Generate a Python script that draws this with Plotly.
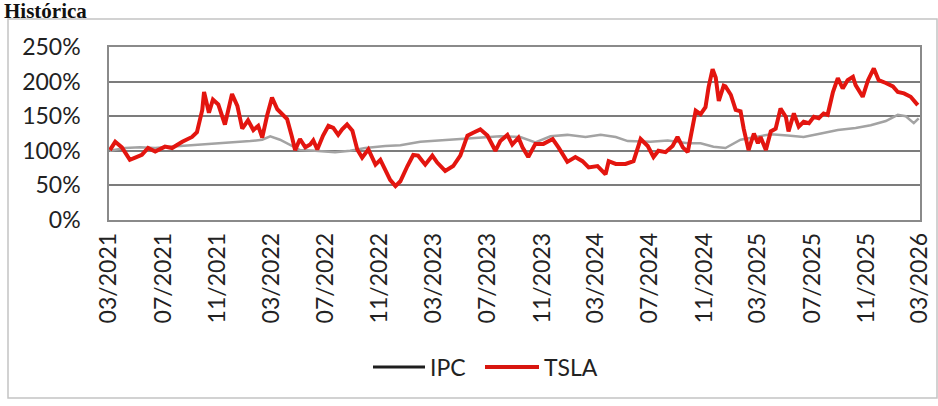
import plotly.graph_objects as go

# ---- data ----
tsla_dates = [
    "2021-03-03", "2021-03-15", "2021-03-30", "2021-04-17", "2021-04-29", "2021-05-14",
    "2021-05-28", "2021-06-13", "2021-07-05", "2021-07-21", "2021-08-13", "2021-09-04",
    "2021-09-15", "2021-09-27", "2021-10-01", "2021-10-12", "2021-10-21", "2021-11-02",
    "2021-11-17", "2021-12-03", "2021-12-15", "2021-12-26", "2022-01-08", "2022-01-20",
    "2022-01-31", "2022-02-09", "2022-02-20", "2022-03-03", "2022-03-15", "2022-03-26",
    "2022-04-06", "2022-04-17", "2022-04-24", "2022-05-05", "2022-05-17", "2022-05-28",
    "2022-06-04", "2022-06-13", "2022-06-26", "2022-07-08", "2022-07-19", "2022-07-30",
    "2022-08-08", "2022-08-19", "2022-08-31", "2022-09-11", "2022-09-22", "2022-10-06",
    "2022-10-22", "2022-11-02", "2022-11-13", "2022-11-24", "2022-12-06", "2022-12-17",
    "2023-01-02", "2023-01-15", "2023-01-26", "2023-02-11", "2023-02-27", "2023-03-10",
    "2023-03-28", "2023-04-15", "2023-05-01", "2023-05-17", "2023-05-30", "2023-06-15",
    "2023-07-01", "2023-07-19", "2023-07-30", "2023-08-15", "2023-08-26", "2023-09-09",
    "2023-09-18", "2023-10-01", "2023-10-17", "2023-11-04", "2023-11-25", "2023-12-08",
    "2023-12-28", "2024-01-15", "2024-01-31", "2024-02-14", "2024-03-05", "2024-03-23",
    "2024-03-30", "2024-04-15", "2024-05-07", "2024-05-25", "2024-06-10", "2024-06-26",
    "2024-07-09", "2024-07-20", "2024-08-05", "2024-08-21", "2024-09-01", "2024-09-13",
    "2024-09-24", "2024-10-01", "2024-10-12", "2024-10-23", "2024-11-03", "2024-11-10",
    "2024-11-19", "2024-11-26", "2024-12-03", "2024-12-14", "2024-12-18", "2024-12-30",
    "2025-01-10", "2025-01-21", "2025-01-28", "2025-02-08", "2025-02-20", "2025-03-01",
    "2025-03-07", "2025-03-19", "2025-03-30", "2025-04-10", "2025-04-21", "2025-05-03",
    "2025-05-09", "2025-05-21", "2025-06-01", "2025-06-12", "2025-06-24", "2025-07-05",
    "2025-07-16", "2025-07-27", "2025-08-05", "2025-08-17", "2025-08-28", "2025-09-08",
    "2025-09-19", "2025-10-01", "2025-10-07", "2025-10-23", "2025-11-04", "2025-11-17",
    "2025-11-28", "2025-12-14", "2025-12-30", "2026-01-10", "2026-01-24", "2026-02-08",
    "2026-02-24",
]
tsla_values = [
    101, 113, 105, 87, 90, 94,
    104, 99, 106, 104, 113, 120,
    127, 159, 185, 155, 174, 167,
    138, 182, 165, 132, 144, 130,
    136, 119, 151, 177, 160, 153,
    146, 120, 101, 117, 105, 109,
    115, 102, 122, 136, 133, 123,
    131, 138, 129, 102, 90, 102,
    80, 87, 73, 58, 49, 56,
    78, 94, 93, 80, 93, 83,
    71, 78, 93, 122, 126, 131,
    122, 100, 114, 123, 109, 119,
    105, 91, 110, 110, 117, 105,
    84, 91, 85, 76, 78, 66,
    85, 81, 81, 85, 117, 107,
    91, 100, 98, 107, 120, 105,
    98, 121, 158, 153, 163, 192,
    218, 206, 172, 194, 193, 181,
    159, 157, 132, 101, 125, 111,
    120, 101, 128, 132, 161, 149,
    128, 154, 135, 142, 140, 149,
    147, 154, 152, 185, 205, 190,
    202, 207, 195, 178, 202, 219,
    202, 198, 193, 185, 183, 178,
    166,
]

ipc_dates = [
    "2021-03-03", "2021-04-06", "2021-05-10", "2021-06-13", "2021-07-16", "2021-08-31",
    "2021-10-15", "2021-11-29", "2022-01-13", "2022-02-09", "2022-02-27", "2022-03-21",
    "2022-04-13", "2022-05-05", "2022-06-08", "2022-07-23", "2022-08-26", "2022-09-29",
    "2022-11-13", "2022-12-17", "2023-01-31", "2023-03-17", "2023-05-01", "2023-06-15",
    "2023-07-30", "2023-09-13", "2023-10-17", "2023-11-20", "2023-12-28", "2024-02-07",
    "2024-03-12", "2024-04-15", "2024-05-12", "2024-07-02", "2024-08-10", "2024-09-24",
    "2024-10-23", "2024-11-21", "2024-12-18", "2025-01-21", "2025-02-24", "2025-03-30",
    "2025-05-07", "2025-06-12", "2025-07-21", "2025-08-28", "2025-10-07", "2025-11-10",
    "2025-12-14", "2026-01-10", "2026-01-28", "2026-02-15", "2026-02-26",
]
ipc_values = [
    100, 104, 105, 104, 106, 108,
    110, 111, 114, 116, 121, 116,
    108, 101, 100, 98, 100, 104,
    107, 108, 113, 115, 116, 119,
    121, 120, 112, 121, 123, 120,
    123, 120, 114, 113, 115, 111,
    111, 106, 104, 116, 120, 124,
    122, 120, 125, 130, 133, 137,
    143, 152, 150, 140, 147,
]

tick_dates = [
    "2021-03-01", "2021-07-01", "2021-11-01", "2022-03-01", "2022-07-01", "2022-11-01",
    "2023-03-01", "2023-07-01", "2023-11-01", "2024-03-01", "2024-07-01", "2024-11-01",
    "2025-03-01", "2025-07-01", "2025-11-01", "2026-03-01",
]
tick_labels = [
    "03/2021", "07/2021", "11/2021", "03/2022", "07/2022", "11/2022",
    "03/2023", "07/2023", "11/2023", "03/2024", "07/2024", "11/2024",
    "03/2025", "07/2025", "11/2025", "03/2026",
]
y_ticks = [0, 50, 100, 150, 200, 250]
y_tick_labels = ["0%", "50%", "100%", "150%", "200%", "250%"]

series_names = ["IPC", "TSLA"]
legend_colors = ["#1e1e1e", "#d8160f"]

FONT = "Lato"
W, H = 938, 406
L, R, T, B = 109, 18, 47, 186
PW, PH = W - L - R, H - T - B


def px_x(p):
    return (p - L) / PW


def px_y(p):
    return (H - B - p) / PH


fig = go.Figure()
fig.add_trace(go.Scatter(
    x=ipc_dates, y=ipc_values, mode="lines", name=series_names[0], showlegend=False,
    line=dict(color="#a3a3a3", width=2.5),
))
fig.add_trace(go.Scatter(
    x=tsla_dates, y=tsla_values, mode="lines", name=series_names[1], showlegend=False,
    line=dict(color="#e3150f", width=4),
))

# hand-placed legend (wide line samples as in the reference)
legend_shapes = []
legend_annos = []
leg_y = px_y(367)
for name, col, (lx0, lx1, tx), w in zip(series_names, legend_colors,
                                       [(373, 425, 428), (485, 539, 542)], [3, 4]):
    legend_shapes.append(dict(type="line", xref="paper", yref="paper",
                              x0=px_x(lx0), x1=px_x(lx1), y0=leg_y, y1=leg_y,
                              line=dict(color=col, width=w)))
    legend_annos.append(dict(text=name, xref="paper", yref="paper", x=px_x(tx), y=leg_y,
                             xanchor="left", yanchor="middle", showarrow=False,
                             font=dict(family=FONT, size=23, color="#222222")))

fig.update_layout(
    width=W, height=H,
    margin=dict(l=L, r=R, t=T, b=B),
    paper_bgcolor="white", plot_bgcolor="white",
    font=dict(family=FONT, size=23, color="#222222"),
    showlegend=False,
    xaxis=dict(
        type="date", range=["2021-03-01", "2026-03-01"],
        tickmode="array", tickvals=tick_dates, ticktext=tick_labels,
        tickangle=-90, showgrid=False, showline=True, linecolor="#8a8a8a", linewidth=1.5,
        mirror=True, ticks="", automargin=False, ticklabelstandoff=2,
        tickfont=dict(family=FONT, size=23, color="#222222"),
    ),
    yaxis=dict(
        range=[0, 250], tickmode="array", tickvals=y_ticks, ticktext=y_tick_labels,
        showgrid=True, gridcolor="#7c7c7c", gridwidth=1.5,
        showline=True, linecolor="#8a8a8a", linewidth=1.5, mirror=True,
        ticks="", ticklabelstandoff=22, zeroline=False, automargin=False,
        tickfont=dict(family=FONT, size=23, color="#222222"),
    ),
    shapes=[dict(type="rect", xref="paper", yref="paper",
                 x0=px_x(8), x1=px_x(937), y0=px_y(398), y1=px_y(19),
                 line=dict(color="#c4c4c4", width=1.5), fillcolor="rgba(0,0,0,0)")]
    + legend_shapes,
    annotations=[dict(text="<b>Histórica</b>", xref="paper", yref="paper",
                      x=px_x(2), y=px_y(11), xanchor="left", yanchor="middle",
                      showarrow=False,
                      font=dict(family="Liberation Serif", size=21, color="#111111"))]
    + legend_annos,
)

fig.write_html("out.html", config={"displayModeBar": False},
               post_script="document.body.style.margin='0';document.body.style.overflow='hidden';")
